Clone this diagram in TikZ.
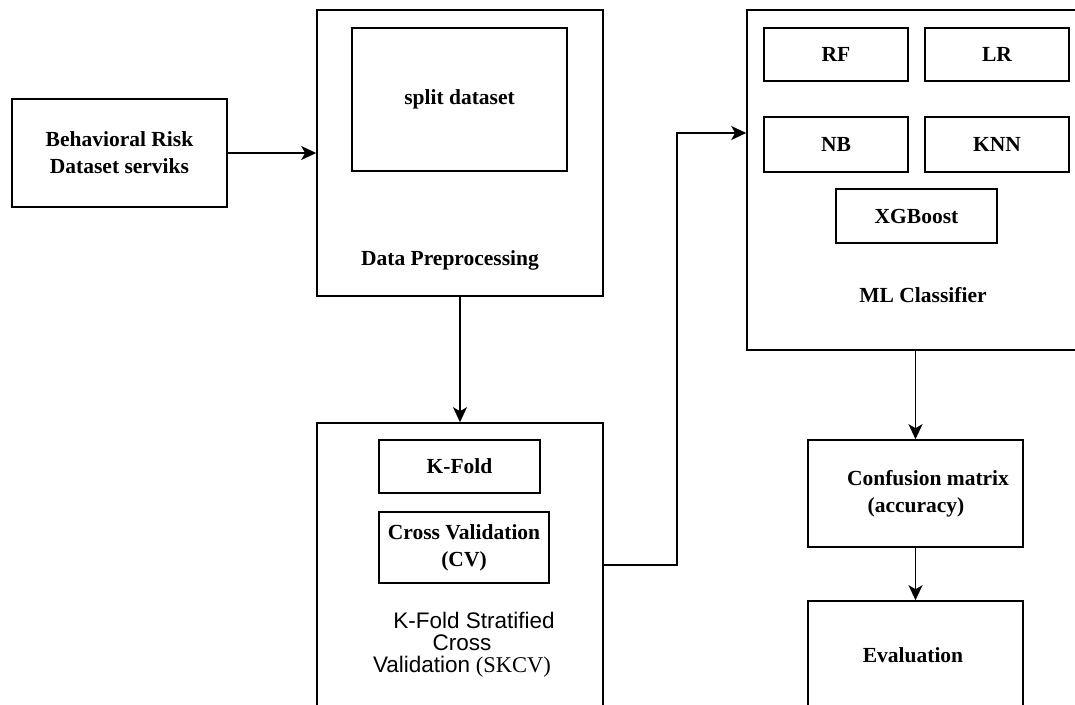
\documentclass[tikz,border=0pt]{standalone}
\usepackage{fontspec}
\setmainfont{Liberation Serif}
\newfontfamily\arialfont{Liberation Sans}
\usetikzlibrary{arrows.meta}
\begin{document}
\begin{tikzpicture}[x=1pt,y=-1pt,
  box/.style={draw=black, line width=1.6pt, rectangle, inner sep=0pt, fill=white},
  lbl/.style={font=\fontsize{21.5}{27}\selectfont\bfseries, align=center, inner sep=0pt},
  arr/.style={draw=black, line width=1.6pt, -{Stealth[length=15pt,width=14pt,inset=4pt]}}]
\useasboundingbox (0,0) rectangle (1075,704);
\clip (0,0) rectangle (1075,704);
\fill[white] (0,0) rectangle (1075,704);
% input
\node[box, minimum width=215pt, minimum height=108pt, lbl] (beh) at (119.5,153) {Behavioral Risk\\Dataset serviks};
% data preprocessing
\node[box, minimum width=286pt, minimum height=286pt] (dp) at (460,153) {};
\node[box, minimum width=215pt, minimum height=143pt, lbl] (split) at (459.5,99.5) {split dataset};
\node[lbl] (dplbl) at (450,260) {Data Preprocessing};
% SKCV
\node[box, minimum width=286pt, minimum height=307pt] (skcv) at (460,576.5) {};
\node[box, minimum width=161pt, minimum height=53pt, lbl] (kfold) at (459.5,466.5) {K-Fold};
\node[box, minimum width=170pt, minimum height=71pt, lbl] (cv) at (464,547.5) {Cross Validation\\(CV)};
\node[align=center, inner sep=0pt, font=\fontsize{22.5}{22}\selectfont] (skcvlbl) at (462,645) {\hspace*{24pt}{\arialfont K-Fold Stratified}\\{\arialfont Cross}\\{\arialfont Validation} (SKCV)};
% ML classifier
\node[box, minimum width=348pt, minimum height=340pt] (ml) at (921,180) {};
\node[box, minimum width=144pt, minimum height=53pt, lbl] (rf) at (836,54.5) {RF};
\node[box, minimum width=144pt, minimum height=53pt, lbl] (lr) at (997,54.5) {LR};
\node[box, minimum width=144pt, minimum height=55pt, lbl] (nb) at (836,144.5) {NB};
\node[box, minimum width=144pt, minimum height=55pt, lbl] (knn) at (997,144.5) {KNN};
\node[box, minimum width=161pt, minimum height=54pt, lbl] (xgb) at (916.5,216) {XGBoost};
\node[lbl] (mllbl) at (923,295) {ML Classifier};
% evaluation
\node[box, minimum width=215pt, minimum height=107pt] (conf) at (915.5,493.5) {};
\node[lbl] (conflbl) at (916,494) {\hspace*{24pt}Confusion matrix\\(accuracy)};
\node[box, minimum width=215pt, minimum height=129pt] (eval) at (915.5,665.5) {};
\node[lbl] (evallbl) at (913,655) {Evaluation};
% connectors
\coordinate (b1) at (677,565);
\coordinate (b2) at (677,133);
\draw[arr] (beh.east) -- (dp.west);
\draw[arr] (dp.south) -- (skcv.north);
\draw[arr] (skcv.east |- b1) -- (b1) -- (b2) -- (ml.west |- b2);
\draw[arr] (ml.south -| conf.north) -- (conf.north);
\draw[arr] (conf.south) -- (eval.north);
\end{tikzpicture}
\end{document}
